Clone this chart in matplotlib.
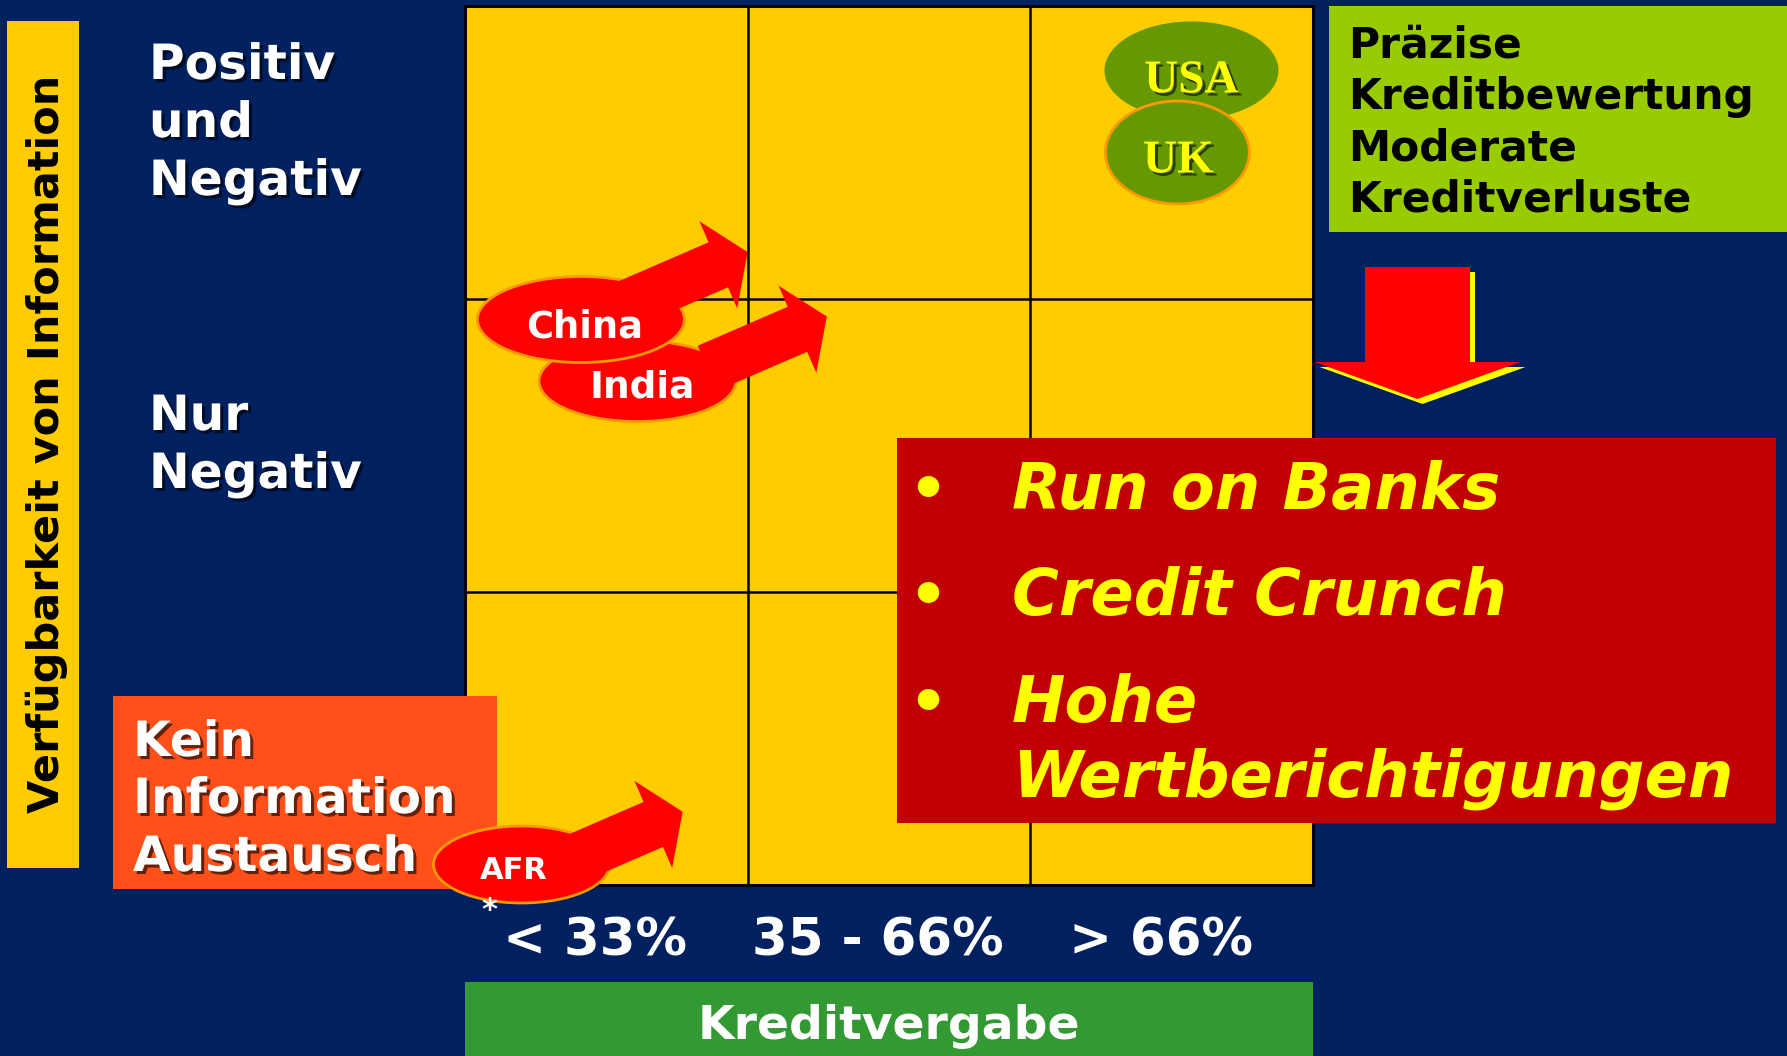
import matplotlib
matplotlib.use("Agg")
import matplotlib.pyplot as plt
from matplotlib.patches import Rectangle, Ellipse, FancyArrow
import matplotlib.patheffects as pe
import numpy as np

# ---------------- data ----------------
y_title = "Verfügbarkeit von Information"
x_title = "Kreditvergabe"
row_labels = [["Positiv", "und", "Negativ"], ["Nur", "Negativ"]]
no_info_label = ["Kein", "Information", "Austausch"]
col_labels = ["< 33%", "35 - 66%", "> 66%"]
n_rows = 3
countries = ["USA", "UK", "China", "India", "AFR"]
country_col = [2.57, 2.52, 0.41, 0.61, 0.20]   # grid column units
country_row = [0.22, 0.50, 1.07, 1.28, 2.93]   # grid row units (from top)
movers = ["China", "India", "AFR"]
mover_to_col = [1.00, 1.28, 0.77]
mover_to_row = [0.84, 1.06, 2.75]
good_outcome = ["Präzise", "Kreditbewertung", "Moderate", "Kreditverluste"]
bad_outcome = [["Run on Banks"], ["Credit Crunch"], ["Hohe", "Wertberichtigungen"]]

# ---------------- style ----------------
W, H = 1787, 1056
NAVY = "#00205F"
YELLOW = "#FFCC00"
RED = "#FF0000"
DARKRED = "#C00000"
ORANGE_EDGE = "#FF9900"
OLIVE = "#669900"
LIME = "#99CC00"
GREEN = "#339933"
ORANGE_BOX = "#FF5019"
TXT_YEL = "#FFFF00"

GX0, GX1, GY0, GY1 = 465, 1313, 6, 885
n_cols = len(col_labels)


def gx(c):
    return GX0 + c * (GX1 - GX0) / n_cols


def gy(r):
    return GY0 + r * (GY1 - GY0) / n_rows


shadow = [pe.withSimplePatchShadow(offset=(2.2, -2.2), shadow_rgbFace="black", alpha=0.6)]

country_style = {
    # w, h, face, edge, text colour, font family, size, text dx, text dy(baseline)
    "USA": (174, 98, OLIVE, None, TXT_YEL, "Liberation Serif", 34, 0, 22),
    "UK": (144, 103, OLIVE, ORANGE_EDGE, TXT_YEL, "Liberation Serif", 34, 1, 20),
    "China": (207, 86, RED, ORANGE_EDGE, "white", "DejaVu Sans", 26.5, 4, 18),
    "India": (197, 81, RED, ORANGE_EDGE, "white", "DejaVu Sans", 27, 5, 16),
    "AFR": (176, 77, RED, ORANGE_EDGE, "white", "DejaVu Sans", 22, -8, 15),
}

fig = plt.figure(figsize=(W / 100, H / 100), dpi=100)
fig.patch.set_facecolor(NAVY)
ax = fig.add_axes([0, 0, 1, 1])
ax.set_xlim(0, W)
ax.set_ylim(H, 0)
ax.axis("off")
ax.set_facecolor(NAVY)

# left vertical title bar
ax.add_patch(Rectangle((7, 21), 72, 847, facecolor=YELLOW, edgecolor="none", zorder=1))
ax.text(47, 444, y_title, rotation=90, ha="center", va="center", fontsize=31,
        fontweight="bold", color="black", zorder=2)

# grid
ax.add_patch(Rectangle((GX0, GY0), GX1 - GX0, GY1 - GY0, facecolor=YELLOW,
                       edgecolor="black", lw=2.2, zorder=1))
for c in range(1, n_cols):
    ax.plot([gx(c), gx(c)], [GY0, GY1], color="black", lw=1.8, zorder=2)
for r in range(1, n_rows):
    ax.plot([GX0, GX1], [gy(r), gy(r)], color="black", lw=1.8, zorder=2)

# row labels
row_baselines = [[79, 137, 195], [430, 488]]
for lines, bls in zip(row_labels, row_baselines):
    for t, b in zip(lines, bls):
        ax.text(149, b, t, ha="left", va="baseline", fontsize=35, fontweight="bold",
                color="white", path_effects=shadow, zorder=3)

# good outcome box
ax.add_patch(Rectangle((1329, 6), W - 1329, 226, facecolor=LIME, edgecolor="none", zorder=2))
for i, t in enumerate(good_outcome):
    ax.text(1348, 58 + i * 51.3, t, ha="left", va="baseline", fontsize=30.5,
            fontweight="bold", color="black", zorder=3)

# down arrow with yellow shadow
for off, col, z in [(5, TXT_YEL, 2), (0, RED, 3)]:
    ax.add_patch(FancyArrow(1417.5 + off, 267 + off, 0, 132, width=105, head_width=206,
                            head_length=37, length_includes_head=True,
                            facecolor=col, edgecolor="none", zorder=z))

# bad outcome box
ax.add_patch(Rectangle((897, 438), 879, 385, facecolor=DARKRED, edgecolor="none", zorder=4))
bad_baselines = [[509], [615], [722, 797]]
for lines, bls in zip(bad_outcome, bad_baselines):
    ax.text(928, bls[0], "•", ha="center", va="baseline", fontsize=44,
            fontweight="bold", color=TXT_YEL, zorder=5)
    for t, b in zip(lines, bls):
        ax.text(1012, b, t, ha="left", va="baseline", fontsize=46, fontweight="bold",
                fontstyle="italic", color=TXT_YEL, zorder=5)

# no information box
ax.add_patch(Rectangle((113, 696), 384, 193, facecolor=ORANGE_BOX, edgecolor="none", zorder=4))
for t, b in zip(no_info_label, [756, 813, 871]):
    ax.text(133, b, t, ha="left", va="baseline", fontsize=35, fontweight="bold",
            color="white", path_effects=shadow, zorder=5)

# countries and movement arrows
order = ["India", "China", "AFR", "USA", "UK"]
ang = np.deg2rad(23.4)
ARROW_LEN = 130
z = 6
for name in order:
    i = countries.index(name)
    cx, cy = gx(country_col[i]), gy(country_row[i])
    w, h, fc, ec, tc, fam, fs, tdx, tdy = country_style[name]
    ax.add_patch(Ellipse((cx, cy), w, h, facecolor=fc,
                         edgecolor=ec if ec else "none", lw=2.0, zorder=z))
    if name in movers:
        j = movers.index(name)
        tx, ty = gx(mover_to_col[j]), gy(mover_to_row[j])
        sx, sy = tx - ARROW_LEN * np.cos(ang), ty + ARROW_LEN * np.sin(ang)
        ax.add_patch(FancyArrow(sx, sy, tx - sx, ty - sy, width=49, head_width=95,
                                head_length=32, length_includes_head=True,
                                facecolor=RED, edgecolor="none", zorder=z + 0.1))
    pe_list = shadow if fam == "Liberation Serif" else None
    ax.text(cx + tdx, cy + tdy, name, ha="center", va="baseline", fontsize=fs,
            fontweight="bold", family=fam, color=tc, path_effects=pe_list, zorder=z + 0.3)
    if name == "AFR":
        ax.text(cx - 32, cy + 55, "*", ha="center", va="baseline", fontsize=22,
                fontweight="bold", color="white", zorder=z + 0.3)
    z += 1

# column labels
for c, lab in enumerate(col_labels):
    ax.text(gx(c + 0.5) - 11, 955, lab, ha="center", va="baseline", fontsize=37,
            fontweight="bold", color="white", zorder=5)

# x title bar
ax.add_patch(Rectangle((GX0, 982), GX1 - GX0, H - 982 + 5, facecolor=GREEN,
                       edgecolor="none", zorder=2))
ax.text((GX0 + GX1) / 2, 1039, x_title, ha="center", va="baseline", fontsize=34,
        fontweight="bold", color="white", zorder=3)

fig.savefig("out.png", dpi=100, facecolor=NAVY)
